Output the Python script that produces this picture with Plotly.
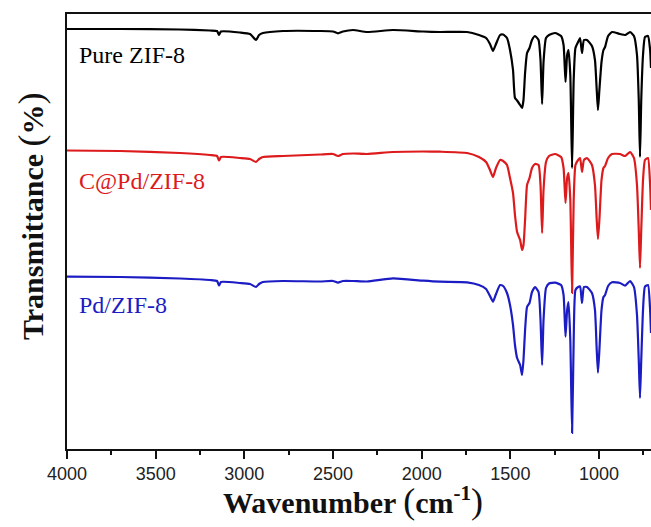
import plotly.graph_objects as go

# Wavenumber grid (cm^-1)
wavenumber = [4000, 3701, 3363, 3194, 3154, 3143, 3132, 3024, 2968, 2934, 2917, 2895, 2782, 2573,
              2500, 2472, 2444, 2387, 2308, 2162, 1992, 1897, 1744, 1677, 1637, 1615, 1598, 1581,
              1558, 1541, 1519, 1502, 1485, 1474, 1462, 1445, 1434, 1426, 1417, 1406, 1392, 1378,
              1361, 1341, 1330, 1321, 1313, 1299, 1282, 1248, 1214, 1200, 1189, 1180, 1172, 1162,
              1152, 1143, 1133, 1118, 1107, 1096, 1085, 1068, 1040, 1023, 1013, 1006, 998, 986,
              975, 966, 949, 927, 882, 853, 825, 803, 786, 776, 769, 762, 752, 741, 724, 712, 707]

# Stacked transmittance (a.u., offset spectra)
pure_zif8 = [420, 420, 419.5, 418.5, 418, 414, 417.5, 416.5, 415, 409, 414, 416, 418, 418,
             417.5, 415.7, 417.5, 419, 417, 419, 417.5, 417, 417, 414, 411, 405, 398, 405,
             414, 414.5, 411, 399, 379, 351, 348.5, 344, 341, 349, 376, 396, 401, 409,
             413, 409, 389, 345, 387, 411, 414, 416, 413, 404, 367, 394, 399, 374,
             281, 369, 401, 407, 411, 396, 409, 409, 403, 389, 359, 339, 359, 387,
             399, 402, 413, 417, 415, 414, 417, 413, 394, 349, 292, 349, 394, 412, 413, 399, 381]

c_pd_zif8 = [298.5, 298, 296, 294, 293, 288.5, 292, 291, 290, 287, 290, 292, 293, 294.5,
             295, 293, 295, 295.5, 295, 297, 297.5, 297.3, 296, 292, 287, 279, 272, 281,
             289, 288, 284, 271, 256, 234, 217, 209, 199, 204, 229, 264, 271, 281,
             285, 284, 264, 216, 259, 287, 293, 295, 292, 281, 246, 271, 276, 249,
             156, 249, 284, 289, 291, 277, 289, 291, 284, 264, 229, 210, 229, 269,
             281, 283, 291, 295, 295, 293, 297, 291, 264, 219, 181, 219, 269, 289, 291, 264, 239]

pd_zif8 = [172.3, 172, 170.5, 169, 168, 163.5, 167, 166, 165, 162, 165, 167, 168, 167.5,
           168, 166.3, 168, 168, 167.5, 170.7, 168.3, 167.3, 166.7, 164, 160, 153, 147.3, 155,
           164, 163, 156, 144, 124, 104, 91, 84, 74, 89, 119, 142, 146, 157,
           162, 157, 129, 84, 129, 161, 165.5, 166.3, 164, 154, 112.3, 139, 147, 109,
           16, 109, 159, 162, 162.5, 146, 162, 162, 156, 139, 99, 76.3, 99, 139,
           152, 154, 163, 166.7, 166, 163.3, 168, 162, 134, 89, 51, 89, 139, 162.3, 164, 139, 116]

series_names = ["Pure ZIF-8", "C@Pd/ZIF-8", "Pd/ZIF-8"]
series_values = [pure_zif8, c_pd_zif8, pd_zif8]
series_colors = ["#000000", "#dd1a1c", "#1c1cc4"]
label_y = [394, 268, 144.5]

fig = go.Figure()
for name, vals, col in zip(series_names, series_values, series_colors):
    fig.add_trace(go.Scatter(x=wavenumber, y=vals, mode="lines", name=name,
                             line=dict(color=col, width=2.2, shape="spline", smoothing=0.5),
                             showlegend=False))

for name, ly, col in zip(series_names, label_y, series_colors):
    fig.add_annotation(x=3944, y=ly, xref="x", yref="y", text=name, showarrow=False,
                       xanchor="left", yanchor="middle",
                       font=dict(family="Liberation Serif", size=24, color=col))

fig.add_annotation(x=0.49, y=-0.12, xref="paper", yref="paper", showarrow=False,
                   xanchor="center", yanchor="middle",
                   text="<b>Wavenumber </b><span style='font-size:36px'>(</span><b>cm<sup>-1</sup></b><span style='font-size:36px'>)</span>",
                   font=dict(family="Liberation Serif", size=30, color="#111"))
fig.add_annotation(x=-0.062, y=0.535, xref="paper", yref="paper", showarrow=False,
                   xanchor="center", yanchor="middle", textangle=-90,
                   text="<b>Transmittance </b><span style='font-size:36px'>(</span><b>%</b><span style='font-size:36px'>)</span>",
                   font=dict(family="Liberation Serif", size=30, color="#111"))

fig.update_layout(
    width=651, height=527,
    margin=dict(l=67, r=0, t=14, b=78),
    paper_bgcolor="white", plot_bgcolor="white",
    xaxis=dict(range=[4000, 707], tickmode="array",
               tickvals=[4000, 3500, 3000, 2500, 2000, 1500, 1000],
               ticktext=["4000", "3500", "3000", "2500", "2000", "1500", "1000"],
               ticks="outside", ticklen=8, tickwidth=1.5, tickcolor="#111",
               minor=dict(dtick=250, tick0=0, ticks="outside", ticklen=4, tickwidth=1.5, tickcolor="#111"),
               showline=True, linecolor="#111", linewidth=1.5, mirror=True,
               showgrid=False, zeroline=False,
               tickfont=dict(family="Liberation Sans", size=18, color="#222")),
    yaxis=dict(range=[0, 435], showticklabels=False, ticks="", showgrid=False, zeroline=False,
               showline=True, linecolor="#111", linewidth=1.5, mirror=False),
)

fig.write_html("out.html", config={"displayModeBar": False},
               post_script="document.body.style.margin='0';document.body.style.overflow='hidden';")
